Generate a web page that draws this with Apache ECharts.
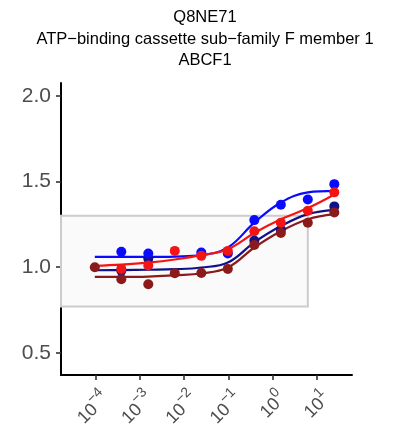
<!DOCTYPE html>
<html>
<head>
<meta charset="utf-8">
<script src="https://cdn.jsdelivr.net/npm/echarts@6/dist/echarts.min.js"></script>
<style>
html,body{margin:0;padding:0;background:#fff;}
#chart{width:400px;height:438px;}
</style>
</head>
<body>
<div id="chart"></div>
<script>
// log10 of concentrations (4-fold dilution series)
const logConc = [-4.02, -3.42, -2.81, -2.21, -1.61, -1.01, -0.41, 0.19, 0.80, 1.40];

// observed points
const navyPts    = [null, 0.98, 1.05, null, null, null, 1.155, 1.22, null, 1.355];
const bluePts    = [null, 1.09, 1.08, null, 1.085, 1.08, 1.275, 1.365, 1.395, 1.485];
const redPts     = [null, 0.99, 1.01, 1.095, 1.066, 1.095, 1.21, 1.26, 1.33, 1.437];
const darkredPts = [1.00, 0.93, 0.90, 0.965, 0.966, 0.99, 1.13, 1.20, 1.26, 1.32];

// fitted curves read at the same x positions
const navyFit    = [0.982, 0.983, 0.985, 0.988, 0.998, 1.027, 1.145, 1.24, 1.31, 1.335];
const blueFit    = [1.06, 1.06, 1.06, 1.062, 1.07, 1.115, 1.26, 1.378, 1.437, 1.446];
const redFit     = [1.008, 1.015, 1.027, 1.045, 1.07, 1.105, 1.20, 1.28, 1.345, 1.425];
const darkredFit = [0.943, 0.943, 0.945, 0.953, 0.963, 0.998, 1.115, 1.21, 1.28, 1.31];

// grey reference box
const boxX = [-4.785, 0.80];
const boxY = [0.77, 1.30];

const xTicks = [-4, -3, -2, -1, 0, 1];
const yTicks = [0.5, 1.0, 1.5, 2.0];
const titleLines = ['Q8NE71', 'ATP\u2212binding cassette sub\u2212family F member 1', 'ABCF1'];

const colors = { navy: '#10108a', blue: '#0a0aff', red: '#f21515', darkred: '#8b1a1a' };

function pairs(ys) {
  const out = [];
  ys.forEach((y, i) => { if (y !== null) out.push([logConc[i], y]); });
  return out;
}

const chart = echarts.init(document.getElementById('chart'));

function lineSeries(name, fit, color) {
  return { name: name + ' fit', type: 'line', data: pairs(fit), smooth: 0.4, showSymbol: false,
    lineStyle: { color: color, width: 2.2 }, z: 3, silent: true };
}
function ptSeries(name, pts, color) {
  return { name: name, type: 'scatter', data: pairs(pts), symbolSize: 10,
    itemStyle: { color: color, opacity: 1 }, z: 4 };
}

chart.setOption({
  animation: false,
  title: {
    text: titleLines.join('\n'),
    left: 200, top: 2, textAlign: 'center',
    textStyle: { fontFamily: 'Liberation Sans', fontSize: 16.5, fontWeight: 'normal', color: '#000', lineHeight: 21.5 }
  },
  grid: { left: 61, right: 48, top: 83, bottom: 63, containLabel: false, outerBoundsMode: 'none' },
  xAxis: {
    type: 'value', min: -4.785, max: 1.8,
    splitLine: { show: false },
    axisLine: { show: true, onZero: false, lineStyle: { color: '#000', width: 2 } },
    axisTick: { show: true, length: 5, lineStyle: { color: '#333', width: 1.6 }, customValues: xTicks },
    axisLabel: {
      customValues: xTicks, rotate: 45, margin: 10, verticalAlign: 'top',
      formatter: v => '{b|10}{s|' + (v < 0 ? '\u2212' + Math.abs(v) : String(v)) + '}',
      rich: {
        b: { fontFamily: 'Liberation Sans', fontSize: 18, color: '#4d4d4d', verticalAlign: 'bottom' },
        s: { fontFamily: 'Liberation Sans', fontSize: 14, color: '#4d4d4d', verticalAlign: 'bottom', padding: [0, 0, 10, 0] }
      }
    }
  },
  yAxis: {
    type: 'value', min: 0.37, max: 2.076,
    splitLine: { show: false },
    axisLine: { show: true, onZero: false, lineStyle: { color: '#000', width: 2 } },
    axisTick: { show: true, length: 5, lineStyle: { color: '#333', width: 1.6 }, customValues: yTicks },
    axisLabel: {
      customValues: yTicks, margin: 10,
      formatter: v => v.toFixed(1),
      fontFamily: 'Liberation Sans', fontSize: 21, color: '#4d4d4d'
    }
  },
  series: [
    { type: 'line', data: [], silent: true, z: 1,
      markArea: { silent: true,
        itemStyle: { color: '#fafafa', borderColor: '#cccccc', borderWidth: 2 },
        data: [[{ xAxis: boxX[0], yAxis: boxY[0] }, { xAxis: boxX[1], yAxis: boxY[1] }]] } },
    lineSeries('navy', navyFit, colors.navy),
    lineSeries('blue', blueFit, colors.blue),
    lineSeries('red', redFit, colors.red),
    lineSeries('darkred', darkredFit, colors.darkred),
    ptSeries('navy', navyPts, colors.navy),
    ptSeries('blue', bluePts, colors.blue),
    ptSeries('red', redPts, colors.red),
    ptSeries('darkred', darkredPts, colors.darkred)
  ]
});
</script>
</body>
</html>
